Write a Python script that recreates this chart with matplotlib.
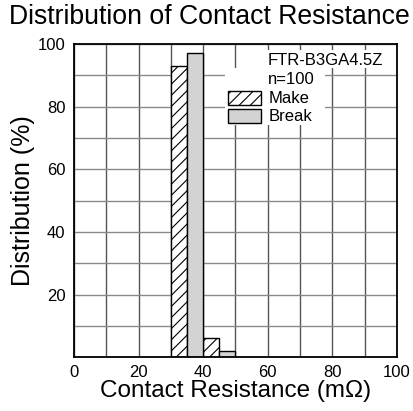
import matplotlib
matplotlib.use("Agg")
import matplotlib.pyplot as plt
from matplotlib.ticker import MultipleLocator
from matplotlib.patches import Rectangle

plt.rcParams['font.family'] = ['Liberation Sans', 'DejaVu Sans']
plt.rcParams['hatch.linewidth'] = 0.8

# Data
bin_left = [30, 40]          # mΩ, left edge of each 10 mΩ bin
make_pct = [93, 6]           # % Make
break_pct = [97, 2]          # % Break
bar_w = 5
model = "FTR-B3GA4.5Z"
n_label = "n=100"

fig = plt.figure(figsize=(4.13, 4.11), dpi=100)
ax = fig.add_axes([0.179, 0.131, 0.782, 0.762])

ax.bar([b for b in bin_left], make_pct, width=bar_w, align='edge',
       facecolor='white', edgecolor='black', hatch='///', linewidth=1, zorder=3, label='Make')
ax.bar([b + bar_w for b in bin_left], break_pct, width=bar_w, align='edge',
       facecolor='#d3d3d3', edgecolor='black', linewidth=1, zorder=3, label='Break')

ax.set_xlim(0, 100)
ax.set_ylim(0, 100)
ax.xaxis.set_major_locator(MultipleLocator(20))
ax.xaxis.set_minor_locator(MultipleLocator(10))
ax.yaxis.set_minor_locator(MultipleLocator(10))
ax.set_yticks([20, 40, 60, 80, 100])
ax.tick_params(which='both', length=0, labelsize=12, pad=6)
ax.grid(axis='x', which='both', color='#555555', linewidth=1, zorder=0)
ax.grid(axis='y', which='both', color='#8a8a8a', linewidth=1, zorder=0)
for s in ax.spines.values():
    s.set_linewidth(1.3)
    s.set_zorder(4)

ax.set_xlabel('Contact Resistance (m\u03a9)', fontsize=17.5, labelpad=0)
ax.set_ylabel('Distribution (%)', fontsize=18, labelpad=2)
fig.text(0.508, 0.958, 'Distribution of Contact Resistance', ha='center', va='center', fontsize=19.2)

# white masks behind the annotation block (hide grid lines like the original)
ax.add_patch(Rectangle((0.582, 0.923), 0.403, 0.058, transform=ax.transAxes,
                       facecolor='white', edgecolor='none', zorder=2))
ax.add_patch(Rectangle((0.467, 0.741), 0.310, 0.182, transform=ax.transAxes,
                       facecolor='white', edgecolor='none', zorder=2))

ax.text(60.0, 94.7, model, fontsize=12, va='center', ha='left', zorder=5)
ax.text(60.0, 88.5, n_label, fontsize=12, va='center', ha='left', zorder=5)
leg = ax.legend(loc='center left', bbox_to_anchor=(0.4666, 0.797), fontsize=12,
                frameon=False,
                handlelength=1.98, handleheight=0.9, handletextpad=0.48,
                borderpad=0.2, labelspacing=0.14, borderaxespad=0)
leg.set_zorder(5)

fig.savefig('out.png', dpi=100)
